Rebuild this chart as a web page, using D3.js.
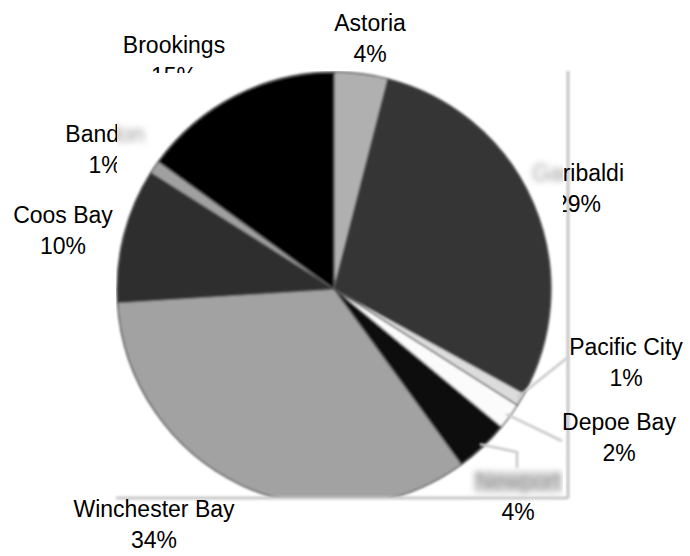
<!DOCTYPE html>
<html>
<head>
<meta charset="utf-8">
<script src="https://cdn.jsdelivr.net/npm/d3@7/dist/d3.min.js"></script>
<style>
  html, body { margin: 0; padding: 0; background: #fff; }
  svg { display: block; }
</style>
</head>
<body>
<svg id="chart" width="690" height="556"></svg>
<script>
// ---- data ----
const categories = ["Astoria", "Garibaldi", "Pacific City", "Depoe Bay", "Newport", "Winchester Bay", "Coos Bay", "Bandon", "Brookings"];
const values = [4, 29, 1, 2, 4, 34, 10, 1, 15];
const pctLabels = ["4%", "29%", "1%", "2%", "4%", "34%", "10%", "1%", "15%"];

// ---- styles / layout ----
const sliceColors = ["#b0b0b0", "#363636", "#dcdcdc", "#fbfbfb", "#0a0a0a", "#a2a2a2", "#2f2f2f", "#a0a0a0", "#030303"];
// label anchor (centre x, baseline of first line)
const labelPos = {
  "Astoria": [370, 31],
  "Garibaldi": [578, 181],
  "Pacific City": [626, 355],
  "Depoe Bay": [619, 430],
  "Newport": [518, 489],
  "Winchester Bay": [154, 517],
  "Coos Bay": [63, 223],
  "Bandon": [105, 142],
  "Brookings": [174, 53]
};
const lineGap = 30.5;
const W = 690, H = 556;
const cx = 334, cy = 289, R = 217;
const plot = { x0: 116, y0: 71, x1: 568, y1: 498 };     // pasted pie picture
const cover = { x0: 117, y0: 73, x1: 563, y1: 497 };    // region hiding labels

const svg = d3.select("#chart");
const defs = svg.append("defs");

defs.append("clipPath").attr("id", "plotClip")
  .append("rect").attr("x", plot.x0).attr("y", plot.y0)
  .attr("width", plot.x1 - plot.x0).attr("height", plot.y1 - plot.y0);

defs.append("clipPath").attr("id", "coverIn")
  .append("rect").attr("x", cover.x0).attr("y", cover.y0)
  .attr("width", cover.x1 - cover.x0).attr("height", cover.y1 - cover.y0);

defs.append("clipPath").attr("id", "coverOut")
  .append("path")
  .attr("clip-rule", "evenodd")
  .attr("d", `M0,0H${W}V${H}H0Z M${cover.x0},${cover.y0}V${cover.y1}H${cover.x1}V${cover.y0}Z`);

const f1 = defs.append("filter").attr("id", "soft").attr("x", "-5%").attr("y", "-5%").attr("width", "110%").attr("height", "110%");
f1.append("feGaussianBlur").attr("stdDeviation", 1.3);
const f2 = defs.append("filter").attr("id", "smear").attr("x", "-20%").attr("y", "-50%").attr("width", "140%").attr("height", "200%");
f2.append("feGaussianBlur").attr("stdDeviation", 3.2);

svg.append("rect").attr("width", W).attr("height", H).attr("fill", "#fff");

// ---- pie ----
const data = categories.map((c, i) => ({ name: c, value: values[i], pct: pctLabels[i], color: sliceColors[i] }));
const pie = d3.pie().sort(null).value(d => d.value).startAngle(0).endAngle(2 * Math.PI);
const arcs = pie(data);
const arc = d3.arc().innerRadius(0).outerRadius(R);

const pieOuter = svg.append("g").attr("clip-path", "url(#plotClip)");
const pieG = pieOuter.append("g").attr("filter", "url(#soft)").attr("transform", `translate(${cx},${cy})`);
pieG.selectAll("path.slice").data(arcs).enter().append("path")
  .attr("class", "slice")
  .attr("d", arc)
  .attr("fill", d => d.data.color)
  .attr("stroke", "#555")
  .attr("stroke-width", 1.4)
  .attr("stroke-linejoin", "round");

// ---- frame of the pasted picture ----
const frame = svg.append("g").attr("filter", "url(#soft)");
frame.append("line").attr("x1", plot.x1).attr("x2", plot.x1).attr("y1", plot.y0).attr("y2", plot.y1)
  .attr("stroke", "#c4c4c4").attr("stroke-width", 3);
frame.append("line").attr("x1", plot.x0).attr("x2", plot.x1).attr("y1", plot.y1).attr("y2", plot.y1)
  .attr("stroke", "#c8c8c8").attr("stroke-width", 3);

// ---- leader lines (faint) ----
const byName = {};
arcs.forEach(a => byName[a.data.name] = a);
function edgePoint(a, rr) {
  const ang = (a.startAngle + a.endAngle) / 2;
  return [cx + Math.sin(ang) * rr, cy - Math.cos(ang) * rr];
}
const leaders = [
  ["Pacific City", [[567, 358]]],
  ["Depoe Bay", [[562, 441]]],
  ["Newport", [[517, 452], [517, 468]]]
];
const lineGen = d3.line();
const leadG = svg.append("g").attr("filter", "url(#soft)");
leaders.forEach(([name, pts]) => {
  const p0 = edgePoint(byName[name], R - 4);
  leadG.append("path").attr("d", lineGen([p0, ...pts]))
    .attr("fill", "none").attr("stroke", "#cacaca").attr("stroke-width", 2.6);
});

// ---- labels ----
const font = "'Liberation Sans', Arial, Helvetica, sans-serif";
function drawLabel(g, d, fill) {
  const [x, y] = labelPos[d.name];
  const t = g.append("text").attr("text-anchor", "middle")
    .attr("font-family", font).attr("font-size", 23).attr("fill", fill);
  t.append("tspan").attr("x", x).attr("y", y).text(d.name);
  t.append("tspan").attr("x", x).attr("y", y + lineGap).text(d.pct);
}

// faint smeared remnants of labels hidden under the picture
const smearG = svg.append("g").attr("clip-path", "url(#coverIn)");
const smearInner = smearG.append("g").attr("filter", "url(#smear)");
const np = labelPos["Newport"];
smearInner.append("rect").attr("x", np[0] - 44).attr("y", np[1] - 18).attr("width", 88).attr("height", 22)
  .attr("fill", "#d8d8d8");
["Garibaldi", "Bandon", "Newport"].forEach(n => {
  const d = data.find(e => e.name === n);
  const [x, y] = labelPos[n];
  smearInner.append("text").attr("text-anchor", "middle")
    .attr("font-family", font).attr("font-size", 23).attr("fill", n === "Newport" ? "#7a7a7a" : "#9a9a9a")
    .attr("x", x).attr("y", y).text(d.name);
});

// crisp visible labels
const labG = svg.append("g").attr("clip-path", "url(#coverOut)");
data.forEach(d => drawLabel(labG, d, "#000"));
</script>
</body>
</html>
